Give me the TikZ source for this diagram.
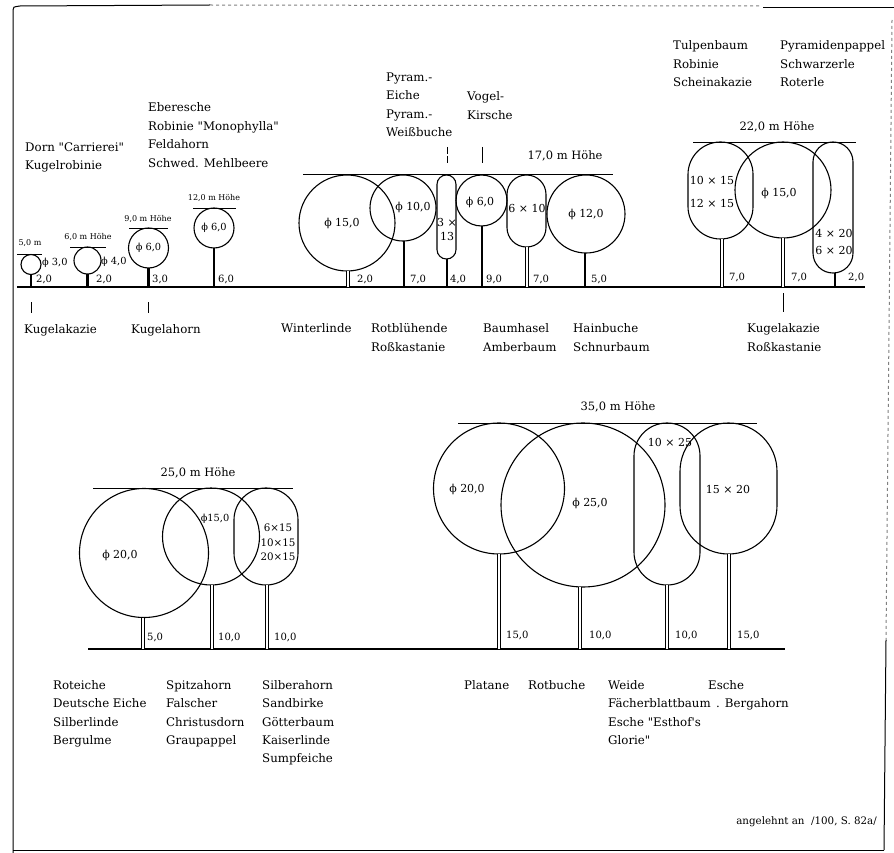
\documentclass[tikz,border=0pt]{standalone}
\usepackage{fontspec}
\setmainfont{DejaVu Serif}
\newfontfamily\df{DejaVu Serif}
\newcommand\nmfont{\df\fontsize{11.8}{18.5}\selectfont}
\newcommand\bnfont{\df\fontsize{11.8}{18.3}\selectfont}
\newcommand\hlfont{\df\fontsize{11.5}{13}\selectfont}
\newcommand\smfont{\df\fontsize{8}{9}\selectfont}
\newcommand\tkfont{\df\fontsize{10}{12}\selectfont}
\newcommand\dmfont{\df\fontsize{11}{13}\selectfont}
\newcommand\sdfont{\df\fontsize{9.8}{11}\selectfont}
\newcommand\pfont{\df\fontsize{10.3}{14.3}\selectfont}
\begin{document}
\begin{tikzpicture}[x=1pt,y=-1pt,
  crown/.style={line width=1.1pt},
  hline/.style={line width=0.9pt},
  ground/.style={line width=1.1pt},
  trunk/.style={line width=2.4pt},
  trunkd/.style={line width=0.9pt, double=white, double distance=1.6pt},
  trunkD/.style={line width=1pt, double=white, double distance=2.8pt},
  tick/.style={line width=0.8pt},
  frame/.style={line width=1pt},
  nm/.style={font=\nmfont, align=left, inner sep=0pt, anchor=north west},
  bn/.style={font=\bnfont, align=left, inner sep=0pt, anchor=north west},
  hl/.style={font=\hlfont, inner sep=0pt},
  sm/.style={font=\smfont, inner sep=0pt},
  tk/.style={font=\tkfont, inner sep=0pt, anchor=west},
  dm/.style={font=\dmfont, inner sep=0pt},
  sd/.style={font=\sdfont, inner sep=0pt},
  pl/.style={font=\pfont, inner sep=0pt, align=center}
]
\useasboundingbox (0,0) rectangle (894,853);
% frame
\draw[frame] (13,853) -- (13,10) .. controls (13,7) .. (20,6) -- (210,5);
\draw[frame, dashed, gray] (210,5) -- (760,6);
\draw[frame] (763,8) -- (894,8);
\draw[frame, dashed, gray] (892,20) -- (886,640);
\draw[frame] (886,640) -- (884,850);
\draw[frame] (13,850) -- (884,850);

% ================= top row =================
\draw[ground] (17,287) -- (865,287);
% tree 5,0 m
\draw[hline] (17,254) -- (42,254);
\node[sm] (h5) at (30,243) {5,0 m};
\draw[crown] (31,264.5) circle[radius=10pt];
\draw[trunk] (31,274.5) -- (31,287);
\node[sd, anchor=west] (d3) at (42,263) {ϕ 3,0};
\node[tk] (t1) at (36,279) {2,0};
% tree 6,0 m
\draw[hline] (70,247) -- (106,247);
\node[sm] (h6) at (88,237) {6,0 m Höhe};
\draw[crown] (87.5,260.5) circle[radius=13.5pt];
\draw[trunk] (87.5,274) -- (87.5,287);
\node[sd, anchor=west] (d4) at (101,262) {ϕ 4,0};
\node[tk] (t2) at (96,279) {2,0};
% tree 9,0 m
\draw[hline] (129,228) -- (168,228);
\node[sm] (h9) at (148,219) {9,0 m Höhe};
\draw[crown] (148.5,248) circle[radius=20pt];
\draw[trunk] (148.5,268) -- (148.5,287);
\node[sd] (d6a) at (148.5,248) {ϕ 6,0};
\node[tk] (t3) at (152,279) {3,0};
% tree 12,0 m
\draw[hline] (193,208) -- (236,208);
\node[sm] (h12) at (214,198) {12,0 m Höhe};
\draw[crown] (214,228) circle[radius=20pt];
\draw[trunk] (214,248) -- (214,287);
\node[sd] (d6b) at (214,228) {ϕ 6,0};
\node[tk] (t4) at (218,279) {6,0};
% labels top left
\node[nm] (dorn) at (25,142.4) {Dorn "Carrierei"\\Kugelrobinie};
\node[nm] (eber) at (148,102.4) {Eberesche\\Robinie "Monophylla"\\Feldahorn\\Schwed. Mehlbeere};
\coordinate (k1a) at (31,302); \coordinate (k1b) at (31,313);
\draw[tick] (k1a) -- (k1b);
\coordinate (k2a) at (148,302); \coordinate (k2b) at (148,313);
\draw[tick] (k2a) -- (k2b);
\node[nm] (kak) at (24,324.4) {Kugelakazie};
\node[nm] (kah) at (131,324.4) {Kugelahorn};

% 17,0 m group
\draw[hline] (303,174) -- (613,174);
\node[hl] (h17) at (565,156) {17,0 m Höhe};
\draw[crown] (347,223) circle[radius=48pt];
\node[dm] (d15a) at (342,223) {ϕ 15,0};
\draw[trunkd] (348,271) -- (348,287);
\node[tk] (t5) at (357,279) {2,0};
\draw[crown] (403,208) circle[radius=33pt];
\node[dm] (d10) at (413,207) {ϕ 10,0};
\draw[trunk] (404,241) -- (404,287);
\node[tk] (t6) at (410,279) {7,0};
\draw[crown, rounded corners=9.4pt] (437,175) rectangle (456,259);
\node[dm] (p313a) at (447,222) {3 ×};
\node[dm] (p313b) at (447,236) {13};
\draw[trunk] (447,259) -- (447,287);
\node[tk] (t7) at (450,279) {4,0};
\draw[crown] (481.5,200.5) circle[radius=25.5pt];
\node[dm] (d6c) at (480,202) {ϕ 6,0};
\draw[trunk] (482,226) -- (482,287);
\node[tk] (t8) at (486,279) {9,0};
\draw[crown, rounded corners=19.4pt] (507,175) rectangle (546,247);
\node[dm] (p610) at (527,208) {6 × 10};
\draw[trunkd] (527,247) -- (527,287);
\node[tk] (t9) at (533,279) {7,0};
\draw[crown] (586,214) circle[radius=39pt];
\node[dm] (d12) at (586,214) {ϕ 12,0};
\draw[trunk] (585,253) -- (585,287);
\node[tk] (t10) at (591,279) {5,0};
% labels
\node[nm] (pyr) at (386,72.4) {Pyram.-\\Eiche\\Pyram.-\\Weißbuche};
\node[nm] (vog) at (467,91.4) {Vogel-\\Kirsche};
\coordinate (k3a) at (447,147); \coordinate (k3b) at (447,163);
\draw[tick, dash pattern=on 7pt off 2pt] (k3a) -- (k3b);
\coordinate (k4a) at (482,147); \coordinate (k4b) at (482,163);
\draw[tick] (k4a) -- (k4b);
\node[nm] (wint) at (281,323.4) {Winterlinde};
\node[nm] (rotb) at (371,323.4) {Rotblühende\\Roßkastanie};
\node[nm] (baum) at (483,323.4) {Baumhasel\\Amberbaum};
\node[nm] (hain) at (573,323.4) {Hainbuche\\Schnurbaum};

% 22,0 m group
\draw[hline] (693,142) -- (856,142);
\node[hl] (h22) at (777,127) {22,0 m Höhe};
\draw[crown, rounded corners=32.4pt] (688,142) rectangle (753,239);
\node[dm] (p1015) at (712,180) {10 × 15};
\node[dm] (p1215) at (712,203) {12 × 15};
\draw[trunkd] (722,239) -- (722,287);
\node[tk] (t11) at (729,277) {7,0};
\draw[crown] (783,190) circle[radius=48pt];
\node[dm] (d15b) at (779,193) {ϕ 15,0};
\draw[trunkd] (783,238) -- (783,287);
\node[tk] (t12) at (791,277) {7,0};
\draw[crown, rounded corners=19.9pt] (813,142) rectangle (853,273);
\node[dm] (p420) at (834,233) {4 × 20};
\node[dm] (p620) at (834,250) {6 × 20};
\draw[trunk] (835,273) -- (835,287);
\node[tk] (t13) at (848,277) {2,0};
\node[nm] (tulp) at (673,40.4) {Tulpenbaum\\Robinie\\Scheinakazie};
\node[nm] (pyp) at (780,40.4) {Pyramidenpappel\\Schwarzerle\\Roterle};
\coordinate (k5a) at (783,293); \coordinate (k5b) at (783,312);
\draw[tick] (k5a) -- (k5b);
\node[nm] (kak2) at (747,323.4) {Kugelakazie\\Roßkastanie};

% ================= bottom row =================
\draw[ground] (88,649) -- (785,649);
% 25,0 m group
\draw[hline] (93,488) -- (293,488);
\node[hl] (h25) at (198,473) {25,0 m Höhe};
\draw[crown] (144,553) circle[radius=64.5pt];
\node[dm] (d20a) at (120,555) {ϕ 20,0};
\draw[trunkD] (143,617.5) -- (143,649);
\node[tk] (t14) at (147,637) {5,0};
\draw[crown] (211,536.5) circle[radius=48.5pt];
\node[sd] (d15c) at (215,519) {ϕ15,0};
\draw[trunkD] (212,585) -- (212,649);
\node[tk] (t15) at (218,637) {10,0};
\draw[crown, rounded corners=31.9pt] (234,488) rectangle (298,585);
\node[pl] (p15s) at (278,542.5) {6×15\\10×15\\20×15};
\draw[trunkD] (267,585) -- (267,649);
\node[tk] (t16) at (274,637) {10,0};
% 35,0 m group
\draw[hline] (458,423) -- (757,423);
\node[hl] (h35) at (618,407) {35,0 m Höhe};
\draw[crown] (499,488.5) circle[radius=65.5pt];
\node[dm] (d20b) at (467,489) {ϕ 20,0};
\draw[trunkD] (499,554) -- (499,649);
\node[tk] (t17) at (506,635) {15,0};
\draw[crown] (583,505) circle[radius=82pt];
\node[dm] (d25) at (590,503) {ϕ 25,0};
\draw[trunkD] (580,587) -- (580,649);
\node[tk] (t18) at (589,635) {10,0};
\draw[crown, rounded corners=32.9pt] (634,423) rectangle (700,585);
\node[dm] (p1025) at (670,442) {10 × 25};
\draw[trunkD] (667,585) -- (667,649);
\node[tk] (t19) at (675,635) {10,0};
\draw[crown, rounded corners=48.4pt] (680,423) rectangle (777,554);
\node[dm] (p1520) at (728,489) {15 × 20};
\draw[trunkD] (729,554) -- (729,649);
\node[tk] (t20) at (737,635) {15,0};
% bottom labels
\node[bn] (rote) at (53,680.4) {Roteiche\\Deutsche Eiche\\Silberlinde\\Bergulme};
\node[bn] (spitz) at (166,680.4) {Spitzahorn\\Falscher\\Christusdorn\\Graupappel};
\node[bn] (silb) at (262,680.4) {Silberahorn\\Sandbirke\\Götterbaum\\Kaiserlinde\\Sumpfeiche};
\node[bn] (plat) at (464,680.4) {Platane};
\node[bn] (rotbu) at (528,680.4) {Rotbuche};
\node[bn] (weide) at (608,680.4) {Weide\\Fächerblattbaum\\Esche "Esthof's\\Glorie"};
\node[bn] (esche) at (708,680.4) {Esche};
\node[bn] (berg) at (716,698.7) {. Bergahorn};
\node[font=\pfont, inner sep=0pt, anchor=east] (ang) at (877,822) {angelehnt an \ /100, S. 82a/};
\end{tikzpicture}
\end{document}
